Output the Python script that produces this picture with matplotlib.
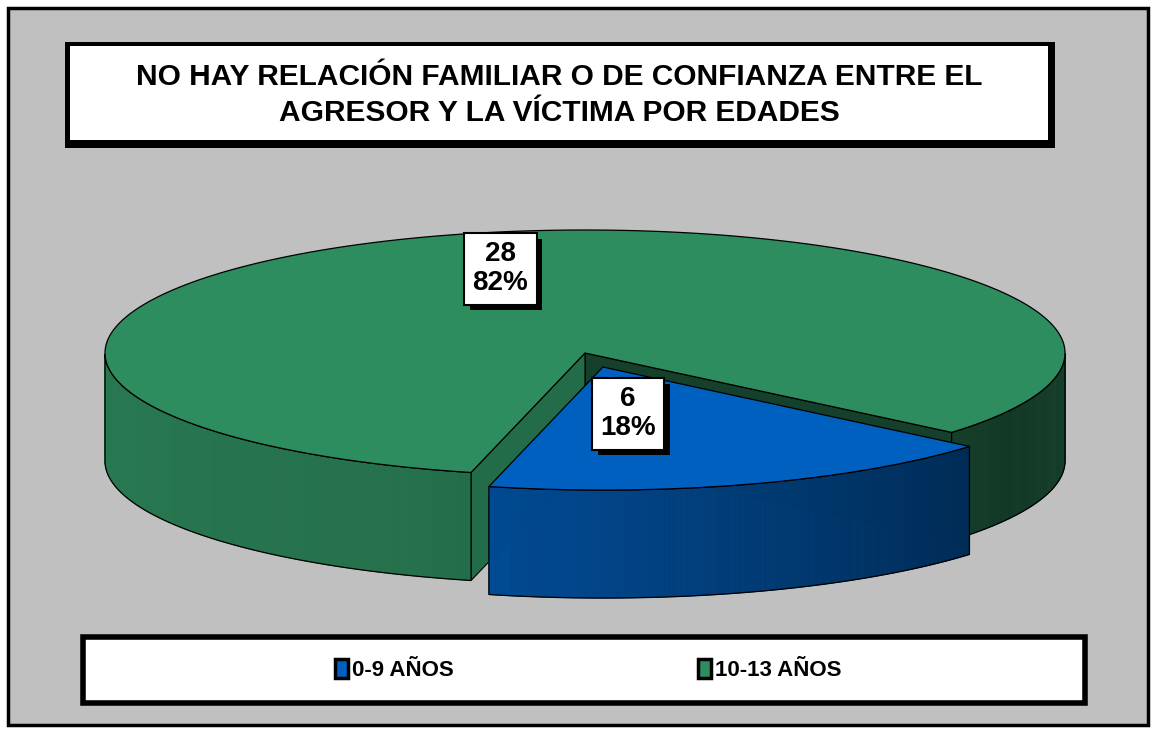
import numpy as np
import matplotlib
matplotlib.use("Agg")
import matplotlib.pyplot as plt
from matplotlib.patches import Polygon, Rectangle, Patch
from matplotlib import patheffects

plt.rcParams["font.family"] = ["Liberation Sans", "DejaVu Sans"]

title = "NO HAY RELACIÓN FAMILIAR O DE CONFIANZA ENTRE EL\nAGRESOR Y LA VÍCTIMA POR EDADES"
categories = ["0-9 AÑOS", "10-13 AÑOS"]
values = [6, 28]
top_colors = ["#0060C0", "#2E8D5F"]
exploded = [0.12, 0.0]

# pie geometry in pixel space
cx, cy = 585, 353
a, b = 480, 123
depth = 108
start_angle = -40.2  # first slice starts here, slices go clockwise

W, H = 1152, 729
fig = plt.figure(figsize=(W / 100, H / 100), dpi=100)
ax = fig.add_axes([0, 0, 1, 1])
ax.set_xlim(0, W)
ax.set_ylim(H, 0)
ax.axis("off")

# outer frame
ax.add_patch(Rectangle((8, 8), 1140, 717, facecolor="#C0C0C0", edgecolor="black", lw=2.5, zorder=0))

# title box
ax.add_patch(Rectangle((65, 42), 990, 106, facecolor="black", edgecolor="none", zorder=1))
ax.add_patch(Rectangle((70, 46), 978, 94, facecolor="white", edgecolor="none", zorder=2))
ax.text(559, 95, title, ha="center", va="center", fontsize=21.5, fontweight="bold",
        linespacing=1.38, zorder=3)


def shade(rgb, f):
    c = np.array(matplotlib.colors.to_rgb(rgb))
    return tuple(np.clip(c * f, 0, 1))


def wall_factor(t):
    t = np.mod(t, 360)
    return np.interp(t, [180, 250, 330, 360], [0.86, 0.8, 0.4, 0.45])


def proj(t, r, z, off):
    t = np.radians(t)
    return (cx + off[0] + a * r * np.cos(t), cy + off[1] - b * r * np.sin(t) + z)


# slice angles (counter-clockwise ranges)
total = sum(values)
spans = [360 * v / total for v in values]
slices = []
cur = start_angle
for i, sp in enumerate(spans):
    t1 = cur
    t0 = cur - sp
    mid = np.radians((t0 + t1) / 2)
    off = (a * exploded[i] * np.cos(mid), -b * exploded[i] * np.sin(mid))
    slices.append((t0, t1, off))
    cur = t0


def draw_slice(i, z):
    t0, t1, off = slices[i]
    col = top_colors[i]
    # radial faces
    for t, side in ((t0, -1), (t1, 1)):
        normal = np.radians(t + side * 90)
        if np.sin(normal) < 0:
            pts = [proj(t, 0, 0, off), proj(t, 1, 0, off), proj(t, 1, depth, off), proj(t, 0, depth, off)]
            ax.add_patch(Polygon(pts, closed=True, facecolor=shade(col, wall_factor(t)),
                                 edgecolor="black", lw=0.8, zorder=z))
    # outer wall, front half only
    ts = np.linspace(t0, t1, 400)
    vis = np.sin(np.radians(ts)) < 0
    runs = []
    start = None
    for k, v in enumerate(vis):
        if v and start is None:
            start = k
        if (not v or k == len(vis) - 1) and start is not None:
            end = k if v else k - 1
            runs.append((start, end))
            start = None
    for s, e in runs:
        seg = ts[s:e + 1]
        for j in range(len(seg) - 1):
            ta, tb = seg[j], seg[j + 1]
            pts = [proj(ta, 1, 0, off), proj(tb, 1, 0, off), proj(tb, 1, depth, off), proj(ta, 1, depth, off)]
            c = shade(col, wall_factor((ta + tb) / 2))
            ax.add_patch(Polygon(pts, closed=True, facecolor=c, edgecolor=c, lw=0.6, zorder=z + 0.1))
        top = [proj(t, 1, 0, off) for t in seg]
        bot = [proj(t, 1, depth, off) for t in seg[::-1]]
        ax.add_patch(Polygon(top + bot, closed=True, facecolor="none", edgecolor="black", lw=0.9, zorder=z + 0.2))
    # top surface
    arc = [proj(t, 1, 0, off) for t in np.linspace(t0, t1, 400)]
    ax.add_patch(Polygon([proj(0, 0, 0, off)] + arc, closed=True, facecolor=col,
                         edgecolor="black", lw=0.9, zorder=z + 0.3))


draw_slice(1, 5)
draw_slice(0, 6)

# data labels
label_r = [(0.17, 0.4), (0.57, 0.72)]
shadow = [patheffects.withSimplePatchShadow(offset=(4, -4), shadow_rgbFace="black", alpha=1.0)]
for i, v in enumerate(values):
    t0, t1, off = slices[i]
    mid = np.radians((t0 + t1) / 2)
    x = cx + off[0] + a * label_r[i][0] * np.cos(mid)
    y = cy + off[1] - b * label_r[i][1] * np.sin(mid)
    txt = f"{v}\n{v / total:.0%}"
    t = ax.text(x, y, txt, ha="center", va="center", fontsize=20, fontweight="bold", linespacing=1.15,
                zorder=10, bbox=dict(boxstyle="square,pad=0.3", facecolor="white", edgecolor="black", lw=1.5))
    t.get_bbox_patch().set_path_effects(shadow)

# legend box
ax.add_patch(Rectangle((83, 637), 1002, 66, facecolor="white", edgecolor="black", lw=4, zorder=1))
handles = [Patch(facecolor=c, edgecolor="black", lw=2.5) for c in top_colors]
ax.legend(handles, categories, loc="center", bbox_to_anchor=(588 / W, 1 - 670 / H), ncol=2,
          frameon=False, prop=dict(size=16, weight="bold"), handlelength=0.6, handleheight=0.9,
          handletextpad=0.15, columnspacing=11.0)

fig.savefig("out.png", dpi=100, facecolor="white")
